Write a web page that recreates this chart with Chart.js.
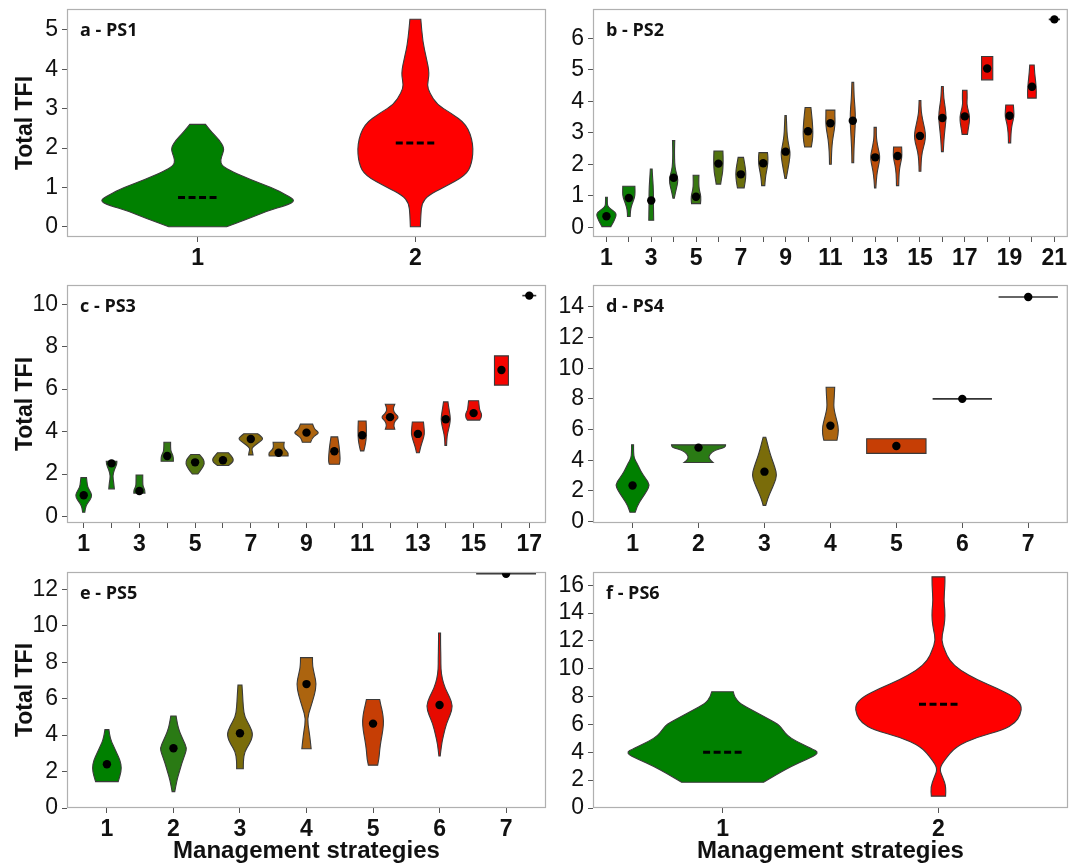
<!DOCTYPE html>
<html>
<head>
<meta charset="utf-8">
<script src="https://cdn.jsdelivr.net/npm/chart.js@4.4.1/dist/chart.umd.min.js"></script>
<style>
  html, body { margin: 0; padding: 0; background: #fff; }
  #fig { position: relative; width: 1072px; height: 865px; overflow: hidden; }
  #fig canvas { position: absolute; }
</style>
</head>
<body>
<div id="fig"></div>
<script>
// ---- data: violin outlines as [y, half width] from bottom to top ----

// a - PS1
const ps1Cats = [1, 2];
const ps1Medians = [0.74, 2.13];
const ps1YTicks = [0, 1, 2, 3, 4, 5];
const ps1Profiles = [
  [[0, 0.133], [0.2, 0.23], [0.4, 0.32], [0.55, 0.41], [0.66, 0.45], [0.8, 0.41], [1.0, 0.34], [1.2, 0.24], [1.4, 0.16], [1.55, 0.11], [1.7, 0.105], [1.85, 0.115], [2.0, 0.122], [2.2, 0.1], [2.4, 0.065], [2.6, 0.036]],
  [[0, 0.023], [0.3, 0.025], [0.6, 0.03], [0.8, 0.06], [1.0, 0.13], [1.3, 0.23], [1.6, 0.26], [2.1, 0.267], [2.6, 0.236], [2.9, 0.16], [3.1, 0.1], [3.4, 0.065], [3.6, 0.054], [3.9, 0.065], [4.3, 0.05], [4.7, 0.034], [5.27, 0.025]]
];

// b - PS2
const ps2Cats = [1, 2, 3, 4, 5, 6, 7, 8, 9, 10, 11, 12, 13, 14, 15, 16, 17, 18, 19, 20, 21];
const ps2Means = [0.35, 0.93, 0.85, 1.57, 0.97, 2.02, 1.68, 2.03, 2.4, 3.05, 3.3, 3.38, 2.22, 2.26, 2.9, 3.47, 3.52, 5.04, 3.54, 4.46, 6.6];
const ps2YTicks = [0, 1, 2, 3, 4, 5, 6];
const ps2Profiles = [
  [[0.02, 0.2], [0.15, 0.3], [0.3, 0.4], [0.42, 0.45], [0.52, 0.32], [0.6, 0.15], [0.68, 0.05], [0.8, 0.04], [0.95, 0.04]],
  [[0.34, 0.06], [0.55, 0.07], [0.75, 0.15], [0.95, 0.26], [1.1, 0.28], [1.3, 0.27]],
  [[0.22, 0.11], [0.6, 0.1], [1.0, 0.1], [1.3, 0.09], [1.6, 0.06], [1.85, 0.04]],
  [[0.92, 0.03], [1.1, 0.08], [1.3, 0.15], [1.5, 0.2], [1.7, 0.13], [1.9, 0.06], [2.2, 0.04], [2.5, 0.04], [2.75, 0.05]],
  [[0.75, 0.2], [0.9, 0.22], [1.05, 0.2], [1.2, 0.14], [1.4, 0.12], [1.65, 0.13]],
  [[1.37, 0.1], [1.55, 0.14], [1.75, 0.19], [2.0, 0.21], [2.25, 0.21], [2.42, 0.2]],
  [[1.25, 0.15], [1.45, 0.2], [1.68, 0.23], [1.9, 0.2], [2.1, 0.15], [2.22, 0.12]],
  [[1.32, 0.07], [1.6, 0.1], [1.85, 0.17], [2.05, 0.21], [2.25, 0.21], [2.37, 0.19]],
  [[1.55, 0.03], [1.9, 0.12], [2.2, 0.19], [2.4, 0.2], [2.6, 0.14], [2.9, 0.07], [3.2, 0.05], [3.55, 0.03]],
  [[2.55, 0.15], [2.75, 0.2], [3.0, 0.22], [3.3, 0.2], [3.6, 0.16], [3.8, 0.13]],
  [[2.0, 0.04], [2.4, 0.05], [2.8, 0.1], [3.1, 0.18], [3.35, 0.21], [3.55, 0.2], [3.72, 0.2]],
  [[2.05, 0.04], [2.5, 0.05], [3.0, 0.09], [3.4, 0.12], [3.8, 0.1], [4.1, 0.06], [4.6, 0.04]],
  [[1.25, 0.03], [1.5, 0.05], [1.8, 0.1], [2.05, 0.18], [2.25, 0.21], [2.45, 0.15], [2.7, 0.08], [2.9, 0.05], [3.17, 0.05]],
  [[1.32, 0.05], [1.7, 0.06], [2.0, 0.12], [2.2, 0.19], [2.4, 0.19], [2.55, 0.18]],
  [[1.78, 0.04], [2.1, 0.05], [2.4, 0.1], [2.7, 0.22], [2.9, 0.25], [3.1, 0.22], [3.4, 0.12], [3.7, 0.05], [4.02, 0.04]],
  [[2.4, 0.04], [2.8, 0.07], [3.2, 0.13], [3.5, 0.17], [3.8, 0.13], [4.1, 0.06], [4.47, 0.04]],
  [[2.95, 0.12], [3.1, 0.15], [3.3, 0.2], [3.5, 0.22], [3.7, 0.16], [3.9, 0.09], [4.1, 0.11], [4.35, 0.1]],
  [[4.68, 0.25], [5.42, 0.25]],
  [[2.68, 0.05], [3.0, 0.06], [3.3, 0.12], [3.5, 0.2], [3.7, 0.19], [3.88, 0.17]],
  [[4.1, 0.19], [4.3, 0.2], [4.6, 0.17], [4.9, 0.12], [5.15, 0.1]],
  [[6.6, 0.25]]
];

// c - PS3
const ps3Cats = [1, 2, 3, 4, 5, 6, 7, 8, 9, 10, 11, 12, 13, 14, 15, 16, 17];
const ps3Means = [1.0, 2.5, 1.2, 2.85, 2.55, 2.65, 3.65, 3.0, 3.95, 3.07, 3.83, 4.68, 3.89, 4.58, 4.87, 6.9, 10.41];
const ps3YTicks = [0, 2, 4, 6, 8, 10];
const ps3Profiles = [
  [[0.2, 0.04], [0.4, 0.06], [0.6, 0.12], [0.8, 0.24], [1.0, 0.3], [1.2, 0.22], [1.4, 0.14], [1.6, 0.12], [1.83, 0.1]],
  [[1.3, 0.1], [1.6, 0.08], [1.9, 0.04], [2.2, 0.1], [2.45, 0.19], [2.6, 0.19]],
  [[1.1, 0.2], [1.25, 0.2], [1.4, 0.13], [1.6, 0.12], [1.95, 0.12]],
  [[2.6, 0.22], [2.8, 0.22], [2.95, 0.18], [3.1, 0.12], [3.5, 0.12]],
  [[2.0, 0.1], [2.25, 0.25], [2.5, 0.34], [2.7, 0.3], [2.85, 0.2], [2.92, 0.15]],
  [[2.4, 0.2], [2.55, 0.35], [2.7, 0.38], [2.85, 0.3], [3.0, 0.2]],
  [[2.9, 0.08], [3.05, 0.06], [3.2, 0.03], [3.35, 0.15], [3.5, 0.3], [3.65, 0.45], [3.8, 0.35], [3.9, 0.25]],
  [[2.85, 0.34], [3.0, 0.36], [3.15, 0.22], [3.3, 0.18], [3.5, 0.2]],
  [[3.5, 0.15], [3.7, 0.2], [3.85, 0.35], [3.95, 0.45], [4.1, 0.3], [4.25, 0.25], [4.35, 0.22]],
  [[2.46, 0.18], [2.6, 0.21], [2.9, 0.2], [3.2, 0.18], [3.5, 0.15], [3.75, 0.12]],
  [[3.09, 0.06], [3.3, 0.1], [3.6, 0.14], [3.9, 0.15], [4.2, 0.15], [4.5, 0.14]],
  [[4.11, 0.17], [4.3, 0.12], [4.5, 0.18], [4.68, 0.32], [4.85, 0.18], [5.05, 0.1], [5.29, 0.17]],
  [[3.0, 0.05], [3.3, 0.1], [3.6, 0.18], [3.9, 0.24], [4.2, 0.22], [4.45, 0.2]],
  [[3.35, 0.03], [3.7, 0.04], [4.0, 0.08], [4.3, 0.14], [4.6, 0.17], [4.9, 0.14], [5.2, 0.1], [5.4, 0.08]],
  [[4.54, 0.22], [4.65, 0.28], [4.85, 0.29], [5.0, 0.22], [5.2, 0.2], [5.45, 0.18]],
  [[6.19, 0.25], [7.57, 0.25]],
  [[10.41, 0.25]]
];

// d - PS4
const ps4Cats = [1, 2, 3, 4, 5, 6, 7];
const ps4Means = [2.35, 4.82, 3.25, 6.25, 4.92, 8.0, 14.65];
const ps4YTicks = [0, 2, 4, 6, 8, 10, 12, 14];
const ps4Profiles = [
  [[0.6, 0.04], [1.0, 0.07], [1.5, 0.14], [2.0, 0.22], [2.4, 0.26], [2.8, 0.2], [3.3, 0.12], [3.8, 0.07], [4.1, 0.025], [4.5, 0.015], [5.0, 0.015]],
  [[3.85, 0.22], [4.1, 0.15], [4.4, 0.17], [4.65, 0.25], [4.8, 0.38], [4.9, 0.41], [5.0, 0.41]],
  [[1.05, 0.02], [1.5, 0.05], [2.0, 0.1], [2.5, 0.15], [3.0, 0.19], [3.5, 0.16], [4.0, 0.12], [4.5, 0.08], [5.0, 0.05], [5.5, 0.02]],
  [[5.3, 0.1], [5.7, 0.12], [6.2, 0.12], [6.7, 0.09], [7.2, 0.06], [7.6, 0.05], [8.2, 0.06], [8.76, 0.065]],
  [[4.44, 0.45], [5.4, 0.45]],
  [[8.0, 0.45]],
  [[14.65, 0.45]]
];

// e - PS5
const ps5Cats = [1, 2, 3, 4, 5, 6, 7];
const ps5Means = [2.4, 3.28, 4.1, 6.8, 4.63, 5.65, 12.85];
const ps5YTicks = [0, 2, 4, 6, 8, 10, 12];
const ps5Profiles = [
  [[1.45, 0.17], [1.8, 0.2], [2.2, 0.22], [2.6, 0.2], [3.0, 0.15], [3.4, 0.1], [3.8, 0.05], [4.3, 0.03]],
  [[0.9, 0.02], [1.5, 0.05], [2.0, 0.09], [2.5, 0.13], [3.0, 0.18], [3.3, 0.2], [3.7, 0.15], [4.2, 0.09], [4.6, 0.06], [5.05, 0.04]],
  [[2.15, 0.05], [2.6, 0.05], [3.1, 0.07], [3.5, 0.14], [4.0, 0.2], [4.5, 0.15], [5.0, 0.07], [5.5, 0.05], [6.2, 0.04], [6.75, 0.03]],
  [[3.25, 0.07], [3.6, 0.06], [4.2, 0.04], [4.9, 0.01], [5.5, 0.06], [6.2, 0.12], [6.8, 0.15], [7.3, 0.12], [7.8, 0.09], [8.25, 0.09]],
  [[2.35, 0.07], [2.7, 0.09], [3.2, 0.1], [3.7, 0.12], [4.3, 0.15], [4.8, 0.16], [5.3, 0.14], [5.6, 0.12], [5.95, 0.1]],
  [[2.85, 0.01], [3.5, 0.03], [4.0, 0.06], [4.6, 0.1], [5.1, 0.16], [5.6, 0.2], [6.1, 0.15], [6.6, 0.08], [7.1, 0.04], [7.6, 0.02], [8.2, 0.02], [9.0, 0.015], [9.6, 0.015]],
  [[12.85, 0.45]]
];

// f - PS6
const ps6Cats = [1, 2];
const ps6Medians = [4.0, 7.45];
const ps6YTicks = [0, 2, 4, 6, 8, 10, 12, 14, 16];
const ps6Profiles = [
  [[1.85, 0.19], [2.5, 0.26], [3.0, 0.32], [3.5, 0.39], [3.95, 0.45], [4.3, 0.41], [4.8, 0.34], [5.2, 0.3], [5.6, 0.28], [6.0, 0.26], [6.5, 0.2], [7.0, 0.14], [7.5, 0.08], [8.0, 0.055], [8.35, 0.05]],
  [[0.85, 0.033], [1.5, 0.036], [2.2, 0.02], [2.8, 0.004], [3.45, 0.028], [4.4, 0.08], [5.1, 0.18], [5.6, 0.3], [6.1, 0.355], [6.7, 0.38], [7.4, 0.386], [8.0, 0.35], [8.6, 0.27], [9.2, 0.18], [9.9, 0.1], [10.6, 0.05], [11.3, 0.03], [12.05, 0.013], [12.8, 0.023], [13.5, 0.03], [14.2, 0.03], [14.9, 0.025], [16.0, 0.03], [16.6, 0.03]]
];

// ---- layout ----
const FONT = "'Liberation Sans', Arial, sans-serif";
const COLS = [
  { left: 0, width: 556, axisW: 67, padR: 10 },
  { left: 550, width: 522, axisW: 43, padR: 4 }
];
const ROWS = [
  { top: -10, height: 290, padT: 19, axisH: 43 },
  { top: 266, height: 300, padT: 19, axisH: 43 },
  { top: 553, height: 312, padT: 19, axisH: 57 }
];

const panels = [
  { label: 'a - PS1', col: 0, row: 0, cats: ps1Cats, centers: ps1Medians, profiles: ps1Profiles, yTicks: ps1YTicks, yMin: -0.26, yMax: 5.53, median: true },
  { label: 'b - PS2', col: 1, row: 0, cats: ps2Cats, centers: ps2Means, profiles: ps2Profiles, yTicks: ps2YTicks, yMin: -0.31, yMax: 6.93, oddOnly: true },
  { label: 'c - PS3', col: 0, row: 1, cats: ps3Cats, centers: ps3Means, profiles: ps3Profiles, yTicks: ps3YTicks, yMin: -0.31, yMax: 10.91, oddOnly: true },
  { label: 'd - PS4', col: 1, row: 1, cats: ps4Cats, centers: ps4Means, profiles: ps4Profiles, yTicks: ps4YTicks, yMin: -0.1, yMax: 15.43 },
  { label: 'e - PS5', col: 0, row: 2, cats: ps5Cats, centers: ps5Means, profiles: ps5Profiles, yTicks: ps5YTicks, yMin: 0, yMax: 12.95 },
  { label: 'f - PS6', col: 1, row: 2, cats: ps6Cats, centers: ps6Medians, profiles: ps6Profiles, yTicks: ps6YTicks, yMin: 0, yMax: 16.95, median: true }
];

// green -> olive -> orange -> red, sampled from the figure, evenly spaced stops
const RAMP_STOPS = [[0, 128, 0], [42, 122, 20], [122, 108, 10], [172, 100, 15], [198, 62, 5], [230, 10, 0], [255, 0, 0]];
function ramp(n) {
  const out = [];
  const segs = RAMP_STOPS.length - 1;
  for (let i = 0; i < n; i++) {
    const s = (n > 1 ? i / (n - 1) : 0) * segs;
    const k = Math.min(segs - 1, Math.floor(s));
    const f = s - k;
    const a = RAMP_STOPS[k], b = RAMP_STOPS[k + 1];
    const c = [0, 1, 2].map(j => Math.round(a[j] + (b[j] - a[j]) * f));
    out.push('rgb(' + c.join(',') + ')');
  }
  return out;
}

// smooth one side of a violin through the given pixel points
function side(ctx, pts) {
  ctx.lineTo(pts[0][0], pts[0][1]);
  for (let i = 1; i < pts.length - 1; i++) {
    const mx = (pts[i][0] + pts[i + 1][0]) / 2, my = (pts[i][1] + pts[i + 1][1]) / 2;
    ctx.quadraticCurveTo(pts[i][0], pts[i][1], mx, my);
  }
  ctx.lineTo(pts[pts.length - 1][0], pts[pts.length - 1][1]);
}

function violinPlugin(p, colors) {
  return {
    id: 'violins',
    beforeDatasetsDraw(chart) {
      const { ctx, chartArea: ca } = chart;
      const xs = chart.scales.x, ys = chart.scales.y;
      ctx.save();
      ctx.beginPath();
      ctx.rect(ca.left, ca.top, ca.right - ca.left, ca.bottom - ca.top);
      ctx.clip();
      p.profiles.forEach((prof, i) => {
        const cx = p.cats[i];
        ctx.beginPath();
        if (prof.length === 1) {
          const [y, w] = prof[0];
          const py = ys.getPixelForValue(y);
          ctx.moveTo(xs.getPixelForValue(cx - w), py);
          ctx.lineTo(xs.getPixelForValue(cx + w), py);
          ctx.strokeStyle = '#333';
          ctx.lineWidth = 1.6;
          ctx.stroke();
          return;
        }
        const right = prof.map(([y, w]) => [xs.getPixelForValue(cx + w), ys.getPixelForValue(y)]);
        const left = prof.slice().reverse().map(([y, w]) => [xs.getPixelForValue(cx - w), ys.getPixelForValue(y)]);
        ctx.moveTo(left[left.length - 1][0], left[left.length - 1][1]);
        side(ctx, right);
        side(ctx, left);
        ctx.closePath();
        ctx.fillStyle = colors[i];
        ctx.fill();
        ctx.strokeStyle = '#3a3a3a';
        ctx.lineWidth = 1.1;
        ctx.stroke();
      });
      ctx.restore();
    },
    afterDraw(chart) {
      const { ctx, chartArea: ca } = chart;
      ctx.save();
      ctx.strokeStyle = '#b0b0b0';
      ctx.lineWidth = 1.2;
      ctx.strokeRect(ca.left + 0.5, ca.top + 0.5, ca.right - ca.left - 1, ca.bottom - ca.top - 1);
      ctx.fillStyle = '#111';
      ctx.font = "bold 18px 'Open Sans', 'Noto Sans', sans-serif";
      ctx.textBaseline = 'middle';
      ctx.textAlign = 'left';
      ctx.fillText(p.label, ca.left + 13, ca.top + 22);
      ctx.restore();
    }
  };
}

const fig = document.getElementById('fig');

panels.forEach(p => {
  const col = COLS[p.col], row = ROWS[p.row];
  const cv = document.createElement('canvas');
  cv.width = col.width;
  cv.height = row.height;
  cv.style.left = col.left + 'px';
  cv.style.top = row.top + 'px';
  fig.appendChild(cv);

  const colors = ramp(p.cats.length);
  const datasets = [];
  if (p.median) {
    p.cats.forEach((c, i) => {
      datasets.push({
        type: 'line',
        data: [{ x: c - 0.09, y: p.centers[i] }, { x: c + 0.09, y: p.centers[i] }],
        borderColor: '#000',
        borderWidth: 3,
        borderDash: [7, 3.5],
        pointRadius: 0,
        showLine: true
      });
    });
  } else {
    datasets.push({
      data: p.cats.map((c, i) => ({ x: c, y: p.centers[i] })),
      pointRadius: 4.2,
      pointBackgroundColor: '#000',
      pointBorderColor: '#000',
      pointBorderWidth: 0
    });
  }

  new Chart(cv, {
    type: 'scatter',
    data: { datasets },
    options: {
      responsive: false,
      animation: false,
      devicePixelRatio: 1,
      layout: { padding: { left: 0, top: row.padT, right: col.padR, bottom: 0 } },
      plugins: { legend: { display: false }, tooltip: { enabled: false } },
      scales: {
        x: {
          type: 'linear',
          min: 0.4,
          max: p.cats.length + 0.6,
          afterBuildTicks: a => { a.ticks = p.cats.map(v => ({ value: v })); },
          afterFit: s => { s.height = row.axisH; },
          ticks: {
            autoSkip: false,
            maxRotation: 0,
            minRotation: 0,
            padding: 3,
            color: '#111',
            font: { family: FONT, size: 23, weight: 'bold' },
            callback: v => (p.oddOnly && v % 2 === 0) ? '' : String(v)
          },
          grid: { drawOnChartArea: false, drawTicks: true, tickLength: 5, tickColor: '#555', tickWidth: 1 },
          border: { display: false },
          title: {
            display: p.row === 2,
            text: 'Management strategies',
            color: '#111',
            padding: { top: 0, bottom: 0 },
            font: { family: FONT, size: 24, weight: 'bold', lineHeight: 1.1 }
          }
        },
        y: {
          type: 'linear',
          min: p.yMin,
          max: p.yMax,
          afterBuildTicks: a => { a.ticks = p.yTicks.map(v => ({ value: v })); },
          afterFit: s => { s.width = col.axisW; },
          ticks: {
            autoSkip: false,
            padding: 4,
            color: '#111',
            font: { family: FONT, size: 23 }
          },
          grid: { drawOnChartArea: false, drawTicks: true, tickLength: 5, tickColor: '#555', tickWidth: 1 },
          border: { display: false },
          title: {
            display: p.col === 0,
            text: 'Total TFI',
            color: '#111',
            padding: { top: 12, bottom: 0 },
            font: { family: FONT, size: 23, weight: 'bold' }
          }
        }
      }
    },
    plugins: [violinPlugin(p, colors)]
  });
});
</script>
</body>
</html>
